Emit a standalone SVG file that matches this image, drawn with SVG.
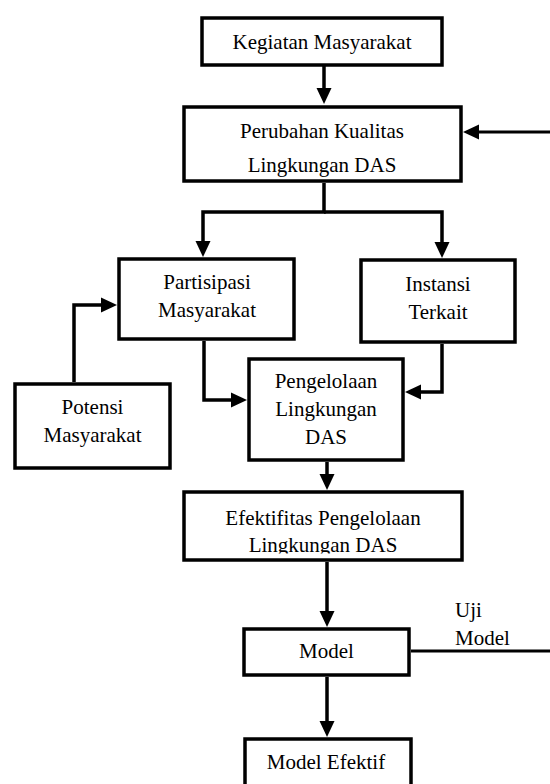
<svg xmlns="http://www.w3.org/2000/svg" width="550" height="784" viewBox="0 0 550 784">
<style>
.box{fill:#fff;stroke:#000;stroke-width:3.5}
.t{font-family:"Liberation Serif","Times New Roman",serif;font-size:21px;fill:#000;text-anchor:middle}
.l{text-anchor:start}
.c{fill:none;stroke:#000;stroke-width:3.5;stroke-linejoin:miter;stroke-linecap:butt}
.thin{stroke-width:3}
</style>
<defs>
<marker id="ah" markerUnits="userSpaceOnUse" markerWidth="16" markerHeight="16" viewBox="0 0 16 16" refX="8" refY="8" orient="auto">
<path d="M0,0.5 L16,8 L0,15.5 z" fill="#000"/>
</marker>
<clipPath id="efclip"><rect x="184" y="492" width="278" height="61.5"/></clipPath>
</defs>
<rect width="550" height="784" fill="#fff"/>
<g id="connectors">
<path class="c" d="M324,66 V96" marker-end="url(#ah)"/>
<path class="c thin" d="M550,132 H471" marker-end="url(#ah)"/>
<path class="c" d="M324,183 V212 H203 V249" marker-end="url(#ah)"/>
<path class="c" d="M324,212 H442 V250" marker-end="url(#ah)"/>
<path class="c" d="M74,382 V305 H109" marker-end="url(#ah)"/>
<path class="c" d="M204,341 V400 H239" marker-end="url(#ah)"/>
<path class="c" d="M442,344 V392 H413" marker-end="url(#ah)"/>
<path class="c" d="M327,462 V482" marker-end="url(#ah)"/>
<path class="c" d="M327,562 V619" marker-end="url(#ah)"/>
<path class="c" d="M327,677 V729" marker-end="url(#ah)"/>
<path class="c thin" d="M411,651 H550"/>
</g>
<g id="kegiatan">
<rect class="box" x="202" y="18" width="240" height="47"/>
<text class="t" x="322" y="49">Kegiatan Masyarakat</text>
</g>
<g id="perubahan">
<rect class="box" x="184" y="107" width="277" height="74"/>
<text class="t" x="322" y="138">Perubahan Kualitas</text>
<text class="t" x="322" y="172">Lingkungan DAS</text>
</g>
<g id="partisipasi">
<rect class="box" x="119" y="259" width="175" height="80"/>
<text class="t" x="207" y="289">Partisipasi</text>
<text class="t" x="207" y="317">Masyarakat</text>
</g>
<g id="instansi">
<rect class="box" x="361" y="260" width="154" height="82"/>
<text class="t" x="438" y="291">Instansi</text>
<text class="t" x="438" y="319">Terkait</text>
</g>
<g id="potensi">
<rect class="box" x="15" y="384" width="155" height="84"/>
<text class="t" x="92.5" y="414">Potensi</text>
<text class="t" x="92.5" y="442">Masyarakat</text>
</g>
<g id="pengelolaan">
<rect class="box" x="249" y="359" width="154" height="101"/>
<text class="t" x="326" y="388">Pengelolaan</text>
<text class="t" x="326" y="416">Lingkungan</text>
<text class="t" x="326" y="444">DAS</text>
</g>
<g id="efektifitas">
<rect class="box" x="184" y="492" width="278" height="68"/>
<text class="t" x="323" y="525">Efektifitas Pengelolaan</text>
<text class="t" x="323" y="552" clip-path="url(#efclip)">Lingkungan DAS</text>
</g>
<g id="model">
<rect class="box" x="244" y="629" width="165" height="46"/>
<text class="t" x="326.5" y="658">Model</text>
</g>
<g id="ujimodel">
<text class="t l" x="455" y="617">Uji</text>
<text class="t l" x="455" y="645">Model</text>
</g>
<g id="modelefektif">
<rect class="box" x="245" y="739" width="166" height="70"/>
<text class="t" x="326" y="769">Model Efektif</text>
</g>
</svg>
